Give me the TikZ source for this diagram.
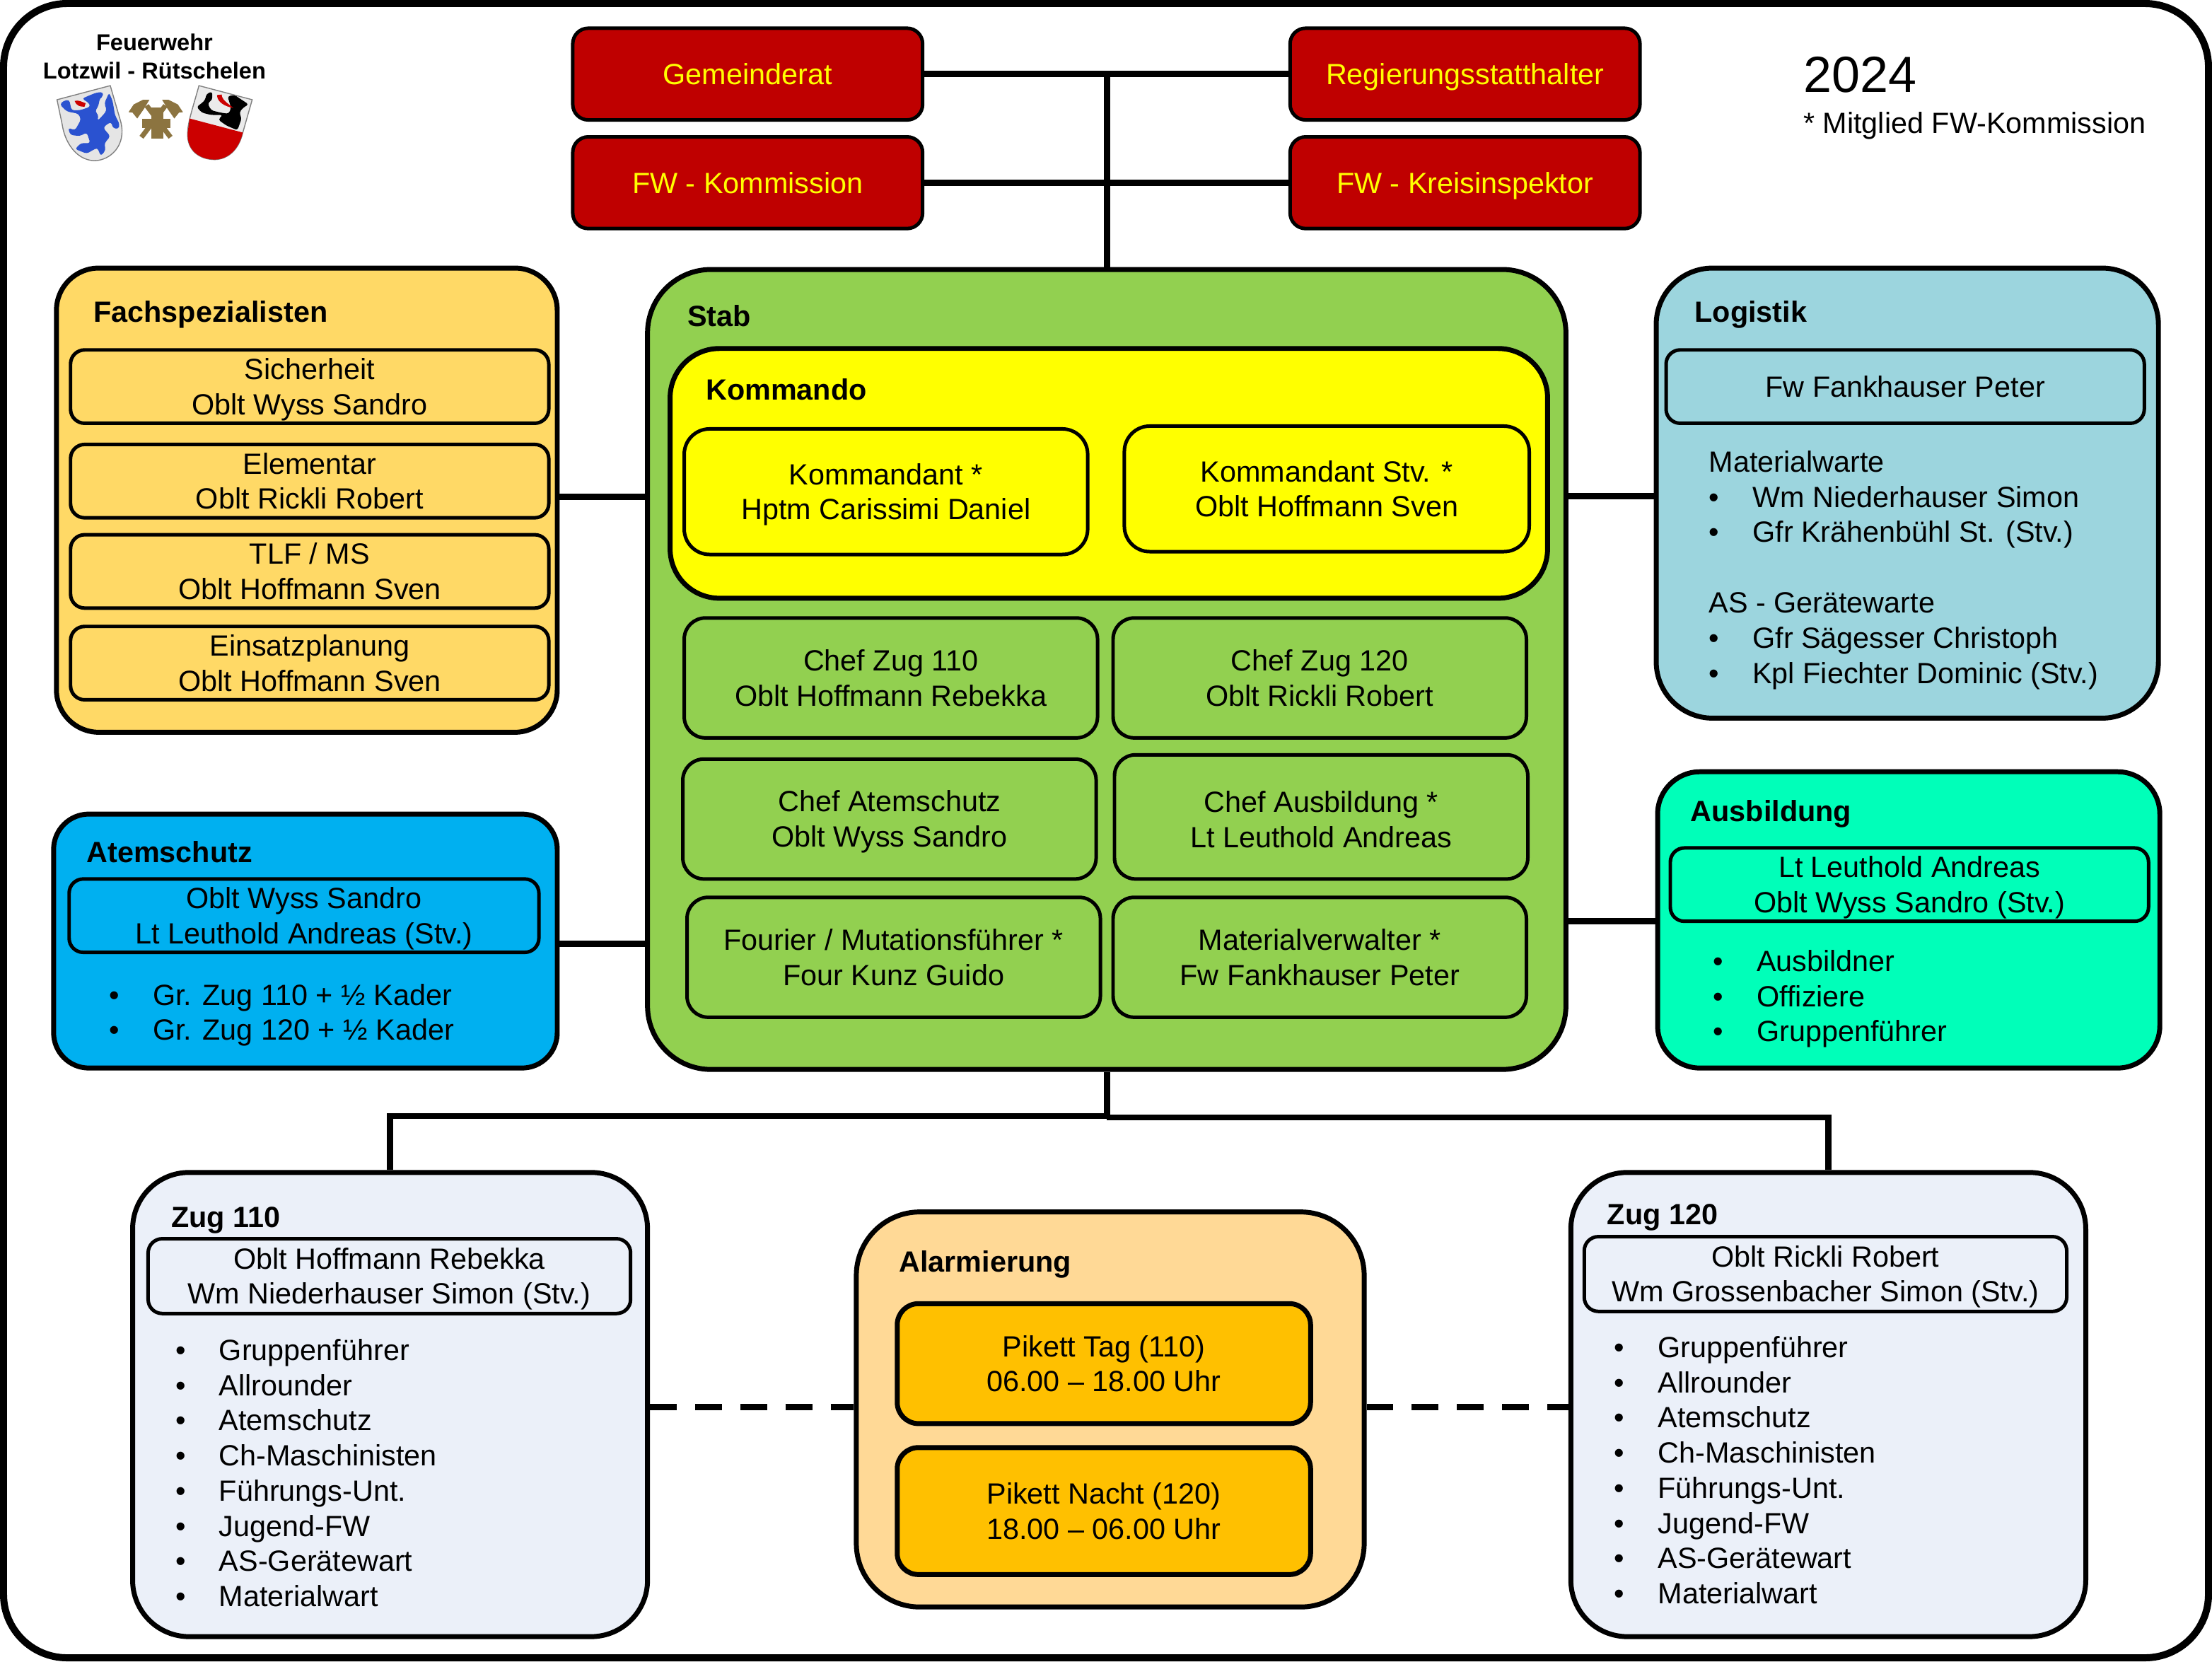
\documentclass[tikz,border=0pt]{standalone}
\usepackage{fontspec}
\setmainfont{Liberation Sans}
\usetikzlibrary{positioning,calc}
\definecolor{cityred}{HTML}{BF0000}
\definecolor{signY}{HTML}{FFFF00}
\definecolor{fachC}{HTML}{FFD966}
\definecolor{stabC}{HTML}{92D050}
\definecolor{logC}{HTML}{9CD5DE}
\definecolor{atemC}{HTML}{00B0F0}
\definecolor{ausbC}{HTML}{00FFB9}
\definecolor{zugC}{HTML}{EBF0F9}
\definecolor{alarmC}{HTML}{FFD996}
\definecolor{piketC}{HTML}{FFC000}
\definecolor{crestC}{HTML}{2A52D0}
\definecolor{emblemC}{HTML}{8C7440}
\newcommand\orgfont{\fontsize{11.8}{14.2}\selectfont}
\newcommand\li{\makebox[.62cm][l]{\textbullet}}
\newcommand\dn{\rule{0pt}{.38cm}}

\begin{document}
\begin{tikzpicture}[font=\orgfont,
 panel/.style={draw,line width=.07cm,inner sep=0pt},
 redbox/.style={panel,line width=.05cm,fill=cityred,text=signY,rounded corners=.22cm,minimum width=4.96cm,minimum height=1.3cm},
 leadbox/.style={draw,line width=.05cm,inner sep=0pt,align=center,rounded corners=.2cm,minimum width=6.78cm,minimum height=1.04cm},
 chefbox/.style={draw,line width=.05cm,inner sep=0pt,align=center,rounded corners=.3cm,minimum width=5.86cm,minimum height=1.7cm},
 title/.style={font=\orgfont\bfseries,anchor=west,inner sep=0pt},
 listing/.style={align=left,anchor=west,inner sep=0pt},
 link/.style={line width=.09cm}]
\useasboundingbox (0,0) rectangle (31.36,-23.55);
\draw[line width=.1cm,rounded corners=.9cm] (.05,-.05) rectangle (31.31,-23.5);

\node[redbox] (gemeinderat) at (10.6,-1.05) {Gemeinderat};
\node[redbox] (kommission) at (10.6,-2.59) {FW - Kommission};
\node[redbox] (statthalter) at (20.77,-1.05) {\dn Regierungsstatthalter};
\node[redbox] (inspektor) at (20.77,-2.59) {\dn FW - Kreisinspektor};

\node[panel,fill=fachC,rounded corners=.6cm,minimum width=7.1cm,minimum height=6.58cm] (fach) at (4.35,-7.09) {};
\node[title] (fachT) at (1.32,-4.46) {Fachspezialisten};
\node[leadbox] (sicherheit) at (4.39,-5.48) {\dn Sicherheit\\Oblt Wyss Sandro};
\node[leadbox] (elementar) at (4.39,-6.82) {Elementar\\Oblt Rickli Robert};
\node[leadbox] (tlf) at (4.39,-8.1) {TLF / MS\\Oblt Hoffmann Sven};
\node[leadbox] (einsatz) at (4.39,-9.4) {Einsatzplanung\\Oblt Hoffmann Sven};

\node[panel,fill=atemC,rounded corners=.5cm,minimum width=7.14cm,minimum height=3.6cm] (atem) at (4.33,-13.34) {};
\node[title] (atemT) at (1.22,-12.08) {Atemschutz};
\node[leadbox,minimum width=6.66cm] (atemL) at (4.31,-12.98) {\dn Oblt Wyss Sandro\\Lt Leuthold Andreas (Stv.)};
\node[listing] (atemN) at (1.54,-14.39) {\li Gr. Zug 110 + ½ Kader\\\li Gr. Zug 120 + ½ Kader};

\node[panel,fill=stabC,rounded corners=.9cm,minimum width=13.02cm,minimum height=11.34cm] (stab) at (15.69,-9.49) {};
\node[title] (stabT) at (9.74,-4.48) {Stab};
\node[panel,fill=signY,rounded corners=.7cm,minimum width=12.44cm,minimum height=3.54cm] (kommando) at (15.72,-6.71) {};
\node[title] (kommandoT) at (10,-5.52) {Kommando};
\node[chefbox,fill=signY,minimum width=5.72cm,minimum height=1.78cm,rounded corners=.36cm] (kdt) at (12.56,-6.97) {\dn Kommandant *\\Hptm Carissimi Daniel};
\node[chefbox,fill=signY,minimum width=5.74cm,minimum height=1.78cm,rounded corners=.36cm] (kdtstv) at (18.81,-6.93) {Kommandant Stv. *\\Oblt Hoffmann Sven};
\node[chefbox] (chefA) at (12.63,-9.61) {Chef Zug 110\\Oblt Hoffmann Rebekka};
\node[chefbox] (chefB) at (18.71,-9.61) {Chef Zug 120\\Oblt Rickli Robert};
\node[chefbox] (chefatem) at (12.61,-11.61) {\dn Chef Atemschutz\\Oblt Wyss Sandro};
\node[chefbox,minimum height=1.76cm] (chefausb) at (18.73,-11.58) {\dn Chef Ausbildung *\\Lt Leuthold Andreas};
\node[chefbox] (fourier) at (12.67,-13.57) {Fourier / Mutationsführer *\\Four Kunz Guido};
\node[chefbox] (material) at (18.71,-13.57) {Materialverwalter *\\Fw Fankhauser Peter};

\node[panel,fill=logC,rounded corners=.8cm,minimum width=7.12cm,minimum height=6.38cm] (logistik) at (27.04,-6.99) {};
\node[title] (logistikT) at (24.02,-4.46) {Logistik};
\node[leadbox] (logistikL) at (27.01,-5.48) {Fw Fankhauser Peter};
\node[listing] (logistikN) at (24.22,-8.08) {Materialwarte\\\li Wm Niederhauser Simon\\\li Gfr Krähenbühl St. (Stv.)\\[.5cm]AS - Gerätewarte\\\li Gfr Sägesser Christoph\\\li Kpl Fiechter Dominic (Stv.)};

\node[panel,fill=ausbC,rounded corners=.6cm,minimum width=7.12cm,minimum height=4.2cm] (ausb) at (27.06,-13.04) {};
\node[title] (ausbT) at (23.96,-11.54) {Ausbildung};
\node[leadbox] (ausbL) at (27.07,-12.54) {\dn Lt Leuthold Andreas\\Oblt Wyss Sandro (Stv.)};
\node[listing] (ausbN) at (24.28,-14.16) {\li Ausbildner\\\li Offiziere\\\li Gruppenführer};

\node[panel,fill=zugC,rounded corners=.8cm,minimum width=7.3cm,minimum height=6.58cm] (zugA) at (5.53,-19.91) {};
\node[title] (zugAT) at (2.42,-17.3) {Zug 110};
\node[leadbox,minimum width=6.84cm,minimum height=1.06cm] (zugAL) at (5.52,-18.09) {\dn Oblt Hoffmann Rebekka\\Wm Niederhauser Simon (Stv.)};
\node[listing] (zugAN) at (2.48,-20.88) {\li Gruppenführer\\\li Allrounder\\\li Atemschutz\\\li Ch-Maschinisten\\\li Führungs-Unt.\\\li Jugend-FW\\\li AS-Gerätewart\\\li Materialwart};

\node[panel,fill=zugC,rounded corners=.8cm,minimum width=7.3cm,minimum height=6.58cm] (zugB) at (25.92,-19.91) {};
\node[title] (zugBT) at (22.78,-17.26) {Zug 120};
\node[leadbox,minimum width=6.84cm,minimum height=1.06cm] (zugBL) at (25.88,-18.06) {\dn Oblt Rickli Robert\\Wm Grossenbacher Simon (Stv.)};
\node[listing] (zugBN) at (22.88,-20.84) {\li Gruppenführer\\\li Allrounder\\\li Atemschutz\\\li Ch-Maschinisten\\\li Führungs-Unt.\\\li Jugend-FW\\\li AS-Gerätewart\\\li Materialwart};

\node[panel,fill=alarmC,rounded corners=.9cm,minimum width=7.2cm,minimum height=5.6cm] (alarm) at (15.74,-19.98) {};
\node[title] (alarmT) at (12.74,-17.92) {Alarmierung};
\node[chefbox,fill=piketC,line width=.07cm] (pikettA) at (15.65,-19.33) {Pikett Tag (110)\\06.00 – 18.00 Uhr};
\node[chefbox,fill=piketC,line width=.07cm,minimum height=1.8cm] (pikettB) at (15.65,-21.42) {Pikett Nacht (120)\\18.00 – 06.00 Uhr};

\node[font=\fontsize{20.5}{24}\selectfont,anchor=west,inner sep=0pt] (jahr) at (25.56,-1.06) {2024};
\node[anchor=west,inner sep=0pt] (hinweis) at (25.56,-1.78) {* Mitglied FW-Kommission};
\node[font=\fontsize{9.3}{11.4}\selectfont\bfseries,align=center,inner sep=0pt] (wehr) at (2.19,-.8) {Feuerwehr\\Lotzwil - Rütschelen};

\draw[link] (gemeinderat)--(statthalter);
\draw[link] (kommission)--(inspektor);
\draw[link] (gemeinderat.east -| stab.north)--(stab.north);
\draw[link] (fach.east |- 0,-7.04)--(stab.west |- 0,-7.04);
\draw[link] (atem.east |- 0,-13.38)--(stab.west |- 0,-13.38);
\draw[link] (stab.east |- 0,-7.03)--(logistik.west |- 0,-7.03);
\draw[link] (stab.east |- 0,-13.06)--(ausb.west |- 0,-13.06);
\coordinate (splitA) at (15.69,-15.82);
\coordinate (splitB) at (15.69,-15.84);
\draw[link] (stab.south)--(splitA);
\draw[link] (splitA) -| (zugA.north);
\draw[link] (splitB) -| (zugB.north);
\draw[link,dash pattern=on .38cm off .26cm] (zugA.east |- 0,-19.95)--(alarm.west |- 0,-19.95);
\draw[link,dash pattern=on .38cm off .26cm] (alarm.east |- 0,-19.95)--(zugB.west |- 0,-19.95);

\begin{scope}[x=.003333cm,y=-.003333cm]
\draw[gray,fill=black!10] (243,425)--(470,365)--(515,520) .. controls (540,620) and (470,685) .. (400,685) .. controls (320,680) and (275,600) .. (265,530)--cycle;
\fill[crestC,rounded corners=1pt] (350,420)--(385,405)--(410,395)--(438,392)--(440,410)--(425,420)--(420,450)--(405,475)--(420,490)--(415,515)--(440,490)--(455,470)--(445,440)--(465,395)--(480,430)--(490,490)--(510,530)--(505,550)--(480,545)--(475,520)--(455,530)--(440,545)--(470,580)--(455,600)--(445,610)--(450,640)--(430,665)--(415,630)--(395,640)--(370,655)--(320,635)--(345,610)--(385,610)--(370,565)--(340,580)--(300,575)--(290,545)--(320,555)--(345,510)--(335,485)--(285,475)--(255,445)--(270,430)--(295,425)--(305,470)--(340,470)--(385,455)--(380,440)--cycle;
\fill[red!80!black] (318,430) .. controls (335,425) and (350,435) .. (365,440)--(360,455) .. controls (340,455) and (325,450) .. (318,430)--cycle;
\draw[emblemC,line width=.07cm] (603,585)--(705,450);
\draw[emblemC,line width=.07cm] (727,585)--(625,450);
\fill[emblemC] (645,458) rectangle (695,590);
\fill[emblemC] (605,505) rectangle (725,545);
\fill[emblemC] (548,478)--(570,445)--(610,425)--(637,425)--(628,440)--(615,462)--(585,505)--(565,480)--cycle;
\fill[emblemC] (780,478)--(758,445)--(718,425)--(691,425)--(700,440)--(713,462)--(743,505)--(763,480)--cycle;
\draw[gray,fill=black!8] (848,365)--(1075,425)--(1035,565) .. controls (1015,650) and (960,680) .. (915,680) .. controls (850,680) and (795,640) .. (800,565) .. controls (800,520) and (825,450) .. (848,365)--cycle;
\fill[red!80!black] (808,505)--(1035,565) .. controls (1015,650) and (960,680) .. (915,680) .. controls (850,680) and (795,640) .. (800,565)--cycle;
\fill[black,rounded corners=1pt] (880,400)--(905,390)--(905,425)--(885,440)--(900,470)--(940,480)--(975,485)--(985,460)--(970,410)--(1000,405)--(1060,445)--(1035,460)--(1020,480)--(1030,505)--(1012,555)--(965,535)--(930,510)--(950,490)--(900,490)--(860,480)--(838,455)--(860,440)--(875,425)--cycle;
\fill[red!80!black] (925,405)--(945,403) .. controls (945,425) and (970,440) .. (995,460) .. controls (960,455) and (925,435) .. (925,405)--cycle;
\end{scope}
\end{tikzpicture}
\end{document}
